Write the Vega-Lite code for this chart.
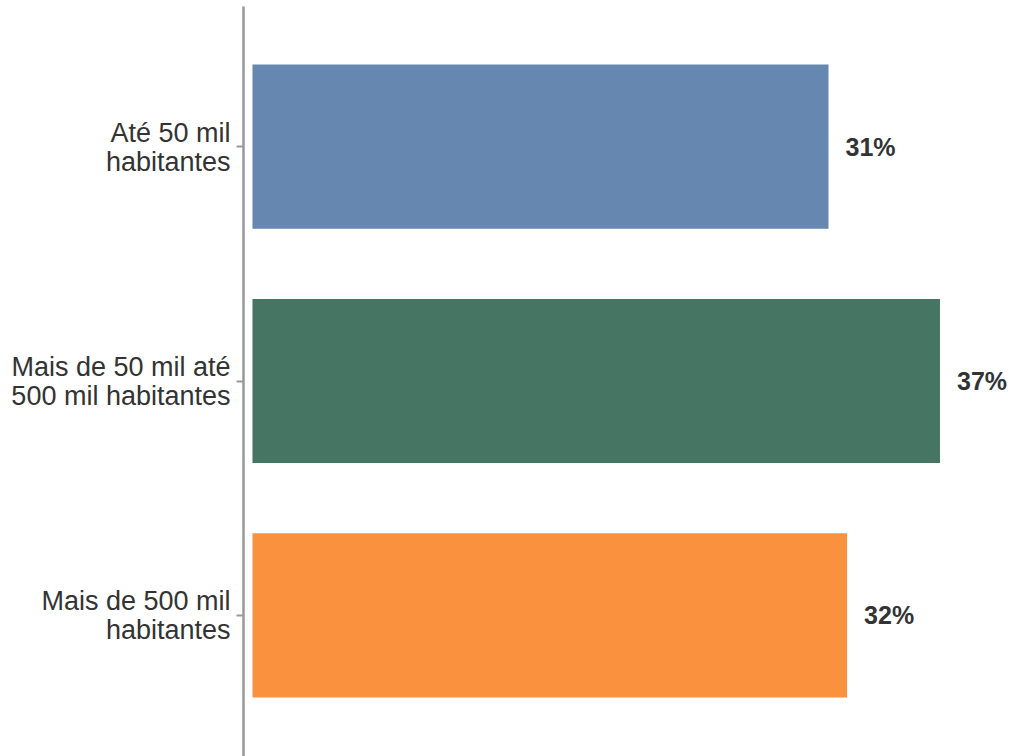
{
  "$schema": "https://vega.github.io/schema/vega-lite/v6.json",
  "width": 770,
  "height": 750,
  "autosize": "none",
  "padding": {"left": 243, "top": 6, "right": 0, "bottom": 0},
  "background": "white",
  "config": {"view": {"stroke": null}},
  "data": {
    "values": [
      {"categoria": "Até 50 mil|habitantes", "pct": 31, "rotulo": "31%"},
      {"categoria": "Mais de 50 mil até|500 mil habitantes", "pct": 37, "rotulo": "37%"},
      {"categoria": "Mais de 500 mil|habitantes", "pct": 32, "rotulo": "32%"}
    ]
  },
  "encoding": {
    "y": {
      "field": "categoria",
      "type": "nominal",
      "sort": null,
      "scale": {"paddingInner": 0.3, "paddingOuter": 0.25},
      "axis": {
        "title": null,
        "labelExpr": "split(datum.label, '|')",
        "labelFont": "Liberation Sans",
        "labelFontSize": 27,
        "labelLineHeight": 29,
        "labelColor": "#333333",
        "labelPadding": 6,
        "labelLimit": 300,
        "labelOffset": -13,
        "domainColor": "#999999",
        "domainWidth": 2.5,
        "tickColor": "#999999",
        "tickWidth": 2,
        "tickSize": 7
      }
    },
    "x": {
      "field": "pct",
      "type": "quantitative",
      "scale": {"domain": [-0.51, 40.93], "nice": false, "zero": false},
      "axis": null
    }
  },
  "layer": [
    {
      "mark": {"type": "bar"},
      "encoding": {
        "x2": {"datum": 0},
        "color": {
          "field": "categoria",
          "type": "nominal",
          "sort": null,
          "scale": {"range": ["#6688B0", "#467563", "#F9913E"]},
          "legend": null
        }
      }
    },
    {
      "mark": {
        "type": "text",
        "align": "left",
        "baseline": "middle",
        "dx": 17,
        "dy": 1,
        "font": "Liberation Sans",
        "fontSize": 25,
        "fontWeight": "bold",
        "color": "#333333"
      },
      "encoding": {
        "text": {"field": "rotulo"}
      }
    }
  ]
}
